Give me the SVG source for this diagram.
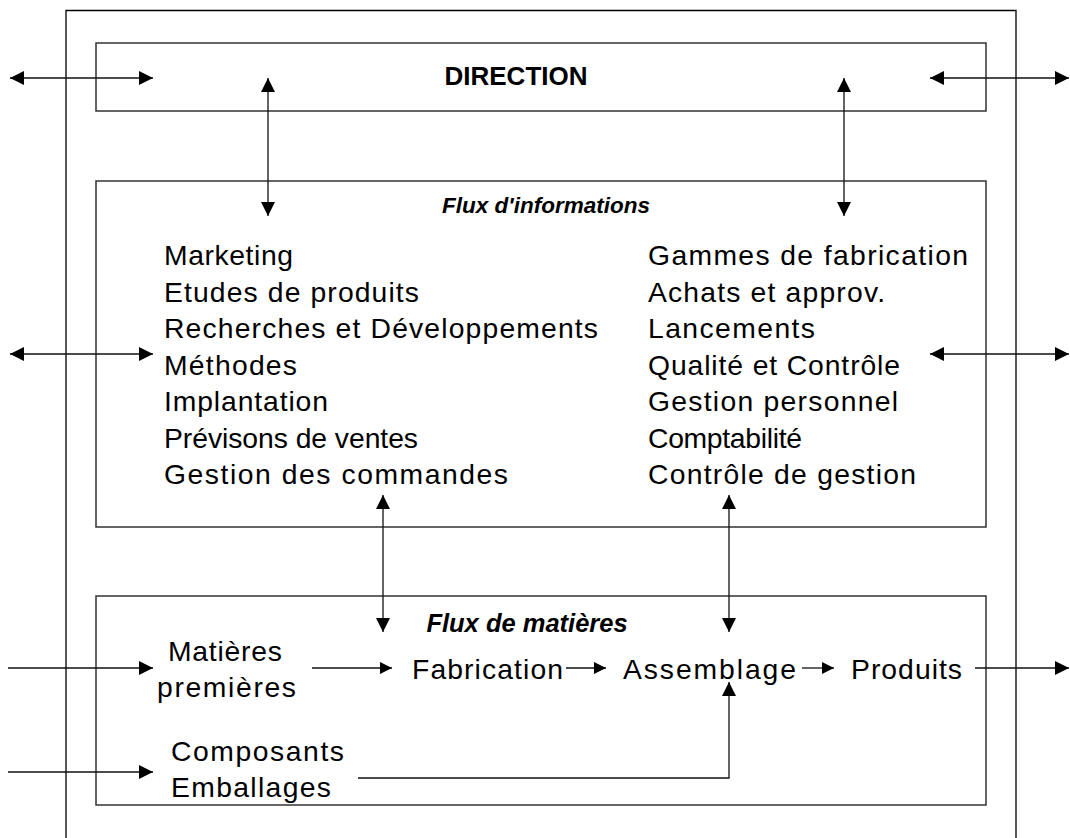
<svg xmlns="http://www.w3.org/2000/svg" width="1070" height="838" viewBox="0 0 1070 838">
<style>
.box{fill:none;stroke:#333;stroke-width:1.5}
.frame{fill:none;stroke:#000;stroke-width:1.3}
.c{fill:none;stroke:#111;stroke-width:1.3}
.t{font-family:"Liberation Sans",Arial,sans-serif;font-size:28.3px;fill:#000}
.ttl{font-family:"Liberation Sans",Arial,sans-serif;font-weight:bold;fill:#000}
</style>
<defs>
<marker id="ah" viewBox="0 0 14 14" markerWidth="14" markerHeight="14" refX="14" refY="7" orient="auto-start-reverse" markerUnits="userSpaceOnUse"><path d="M0,0 L14,7 L0,14 z" fill="#000"/></marker>
<marker id="as" viewBox="0 0 12 12" markerWidth="12" markerHeight="12" refX="12" refY="6" orient="auto-start-reverse" markerUnits="userSpaceOnUse"><path d="M0,0 L12,6 L0,12 z" fill="#000"/></marker>
</defs>
<rect width="1070" height="838" fill="#fff"/>
<g id="frame">
<path class="frame" d="M66,838 L66,10.5 L1016,10.5 L1016,838"/>
</g>
<g id="direction">
<rect class="box" x="96" y="43" width="890" height="68"/>
<text class="ttl" x="516" y="85" font-size="26" text-anchor="middle">DIRECTION</text>
</g>
<g id="flux-informations">
<rect class="box" x="96" y="181" width="890" height="346"/>
<text class="ttl" x="546" y="213" font-size="22.5" font-style="italic" text-anchor="middle">Flux d'informations</text>
<text class="t" x="164" y="265" textLength="129" lengthAdjust="spacing">Marketing</text>
<text class="t" x="164" y="301.5" textLength="255" lengthAdjust="spacing">Etudes de produits</text>
<text class="t" x="164" y="338" textLength="434" lengthAdjust="spacing">Recherches et Développements</text>
<text class="t" x="164" y="374.5" textLength="133" lengthAdjust="spacing">Méthodes</text>
<text class="t" x="164" y="411" textLength="164" lengthAdjust="spacing">Implantation</text>
<text class="t" x="164" y="447.5" textLength="254" lengthAdjust="spacing">Prévisons de ventes</text>
<text class="t" x="164" y="484" textLength="344" lengthAdjust="spacing">Gestion des commandes</text>
<text class="t" x="648" y="265" textLength="320" lengthAdjust="spacing">Gammes de fabrication</text>
<text class="t" x="648" y="301.5" textLength="237" lengthAdjust="spacing">Achats et approv.</text>
<text class="t" x="648" y="338" textLength="167" lengthAdjust="spacing">Lancements</text>
<text class="t" x="648" y="374.5" textLength="252" lengthAdjust="spacing">Qualité et Contrôle</text>
<text class="t" x="648" y="411" textLength="250" lengthAdjust="spacing">Gestion personnel</text>
<text class="t" x="648" y="447.5" textLength="154" lengthAdjust="spacing">Comptabilité</text>
<text class="t" x="648" y="484" textLength="268" lengthAdjust="spacing">Contrôle de gestion</text>
</g>
<g id="flux-matieres">
<rect class="box" x="96" y="596" width="890" height="209"/>
<text class="ttl" x="527" y="632" font-size="25.5" font-style="italic" text-anchor="middle">Flux de matières</text>
</g>
<g id="matieres-premieres">
<text class="t" x="168" y="661" textLength="114" lengthAdjust="spacing">Matières</text>
<text class="t" x="157" y="697" textLength="139" lengthAdjust="spacing">premières</text>
</g>
<g id="fabrication">
<text class="t" x="412" y="679" textLength="151" lengthAdjust="spacing">Fabrication</text>
</g>
<g id="assemblage">
<text class="t" x="623" y="679" textLength="173" lengthAdjust="spacing">Assemblage</text>
</g>
<g id="produits">
<text class="t" x="851" y="679" textLength="111" lengthAdjust="spacing">Produits</text>
</g>
<g id="composants-emballages">
<text class="t" x="171" y="761" textLength="173" lengthAdjust="spacing">Composants</text>
<text class="t" x="171" y="797" textLength="160" lengthAdjust="spacing">Emballages</text>
</g>
<g id="connectors">
<line class="c" x1="10" y1="78" x2="153" y2="78" marker-start="url(#ah)" marker-end="url(#ah)"/>
<line class="c" x1="930" y1="78" x2="1069" y2="78" marker-start="url(#ah)" marker-end="url(#ah)"/>
<line class="c" x1="268" y1="78" x2="268" y2="216" marker-start="url(#ah)" marker-end="url(#ah)"/>
<line class="c" x1="844" y1="78" x2="844" y2="216" marker-start="url(#ah)" marker-end="url(#ah)"/>
<line class="c" x1="10" y1="354" x2="153" y2="354" marker-start="url(#ah)" marker-end="url(#ah)"/>
<line class="c" x1="930" y1="354" x2="1069" y2="354" marker-start="url(#ah)" marker-end="url(#ah)"/>
<line class="c" x1="383" y1="495" x2="383" y2="632" marker-start="url(#ah)" marker-end="url(#ah)"/>
<line class="c" x1="729" y1="495" x2="729" y2="632" marker-start="url(#ah)" marker-end="url(#ah)"/>
<line class="c" x1="8" y1="668" x2="153" y2="668" marker-end="url(#ah)"/>
<line class="c" x1="312" y1="668" x2="392" y2="668" marker-end="url(#as)"/>
<line class="c" x1="566" y1="668" x2="606" y2="668" marker-end="url(#as)"/>
<line class="c" x1="802" y1="668" x2="834" y2="668" marker-end="url(#as)"/>
<line class="c" x1="975" y1="668" x2="1069" y2="668" marker-end="url(#ah)"/>
<line class="c" x1="8" y1="772" x2="153" y2="772" marker-end="url(#ah)"/>
<polyline class="c" points="358,778 729,778 729,682" marker-end="url(#ah)"/>
</g>
</svg>
